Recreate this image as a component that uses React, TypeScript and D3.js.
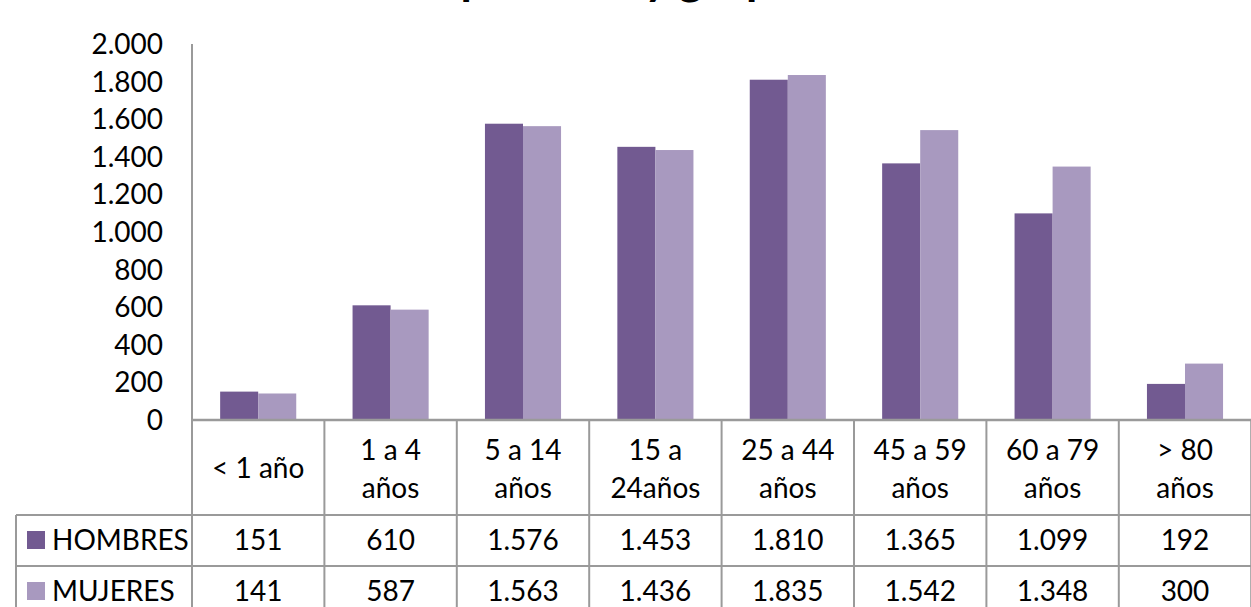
import React from "react";
import * as d3 from "d3";

const title = "Población por sexo y grupo de edad";
const categories = ["< 1 año", "1 a 4 años", "5 a 14 años", "15 a 24años", "25 a 44 años", "45 a 59 años", "60 a 79 años", "> 80 años"];
const categoryLines = [["< 1 año"], ["1 a 4", "años"], ["5 a 14", "años"], ["15 a", "24años"], ["25 a 44", "años"], ["45 a 59", "años"], ["60 a 79", "años"], ["> 80", "años"]];
const seriesNames = ["HOMBRES", "MUJERES"];
const hombres = [151, 610, 1576, 1453, 1810, 1365, 1099, 192];
const mujeres = [141, 587, 1563, 1436, 1835, 1542, 1348, 300];
const yTicks = [0, 200, 400, 600, 800, 1000, 1200, 1400, 1600, 1800, 2000];
const colors = ["#725a91", "#a899bf"];

const W = 1251, H = 607;
const FONT = "Lato, 'Open Sans', sans-serif";

export default function App() {
  const series = [hombres, mujeres];
  const loc = d3.formatLocale({ decimal: ",", thousands: ".", grouping: [3], currency: ["", "€"] });
  const fmt = loc.format(",");
  const y = d3.scaleLinear().domain([0, 2000]).range([420, 44]);
  const x = d3.scaleBand<string>().domain(categories).range([192, 192 + 8 * 132.4]).paddingInner(0).paddingOuter(0);
  const xs = d3.scaleBand<string>().domain(seriesNames).range([0, x.bandwidth()]).paddingInner(0).paddingOuter(0.74);
  const rowY = [540, 591];
  const lineColor = "#9a9a9a";
  const boundaries = d3.range(categories.length + 1).map((i) => 192 + i * x.step());

  return (
    <svg width={W} height={H} style={{ position: "absolute", left: 0, top: 0, background: "#fff" }} fontFamily={FONT}>
      <text x={610} y={-6} textAnchor="middle" fontSize={46} fontWeight="bold" fill="#000">{title}</text>
      {/* bars */}
      {categories.map((c, i) => (
        <g key={c}>
          {series.map((s, j) => (
            <rect key={j} x={(x(c) as number) + (xs(seriesNames[j]) as number)} y={y(s[i])} width={xs.bandwidth()} height={y(0) - y(s[i])} fill={colors[j]} />
          ))}
        </g>
      ))}
      {/* y axis */}
      <line x1={192} x2={192} y1={y(2000)} y2={y(0)} stroke={lineColor} strokeWidth={2} />
      {yTicks.map((t) => (
        <text key={t} x={163} y={y(t)} dy="0.36em" textAnchor="end" fontSize={28} fill="#000">{fmt(t)}</text>
      ))}
      {/* table */}
      <line x1={191} x2={W} y1={y(0)} y2={y(0)} stroke={lineColor} strokeWidth={2.5} />
      {boundaries.map((b, i) => (
        <line key={i} x1={b} x2={b} y1={y(0)} y2={H} stroke={lineColor} strokeWidth={2} />
      ))}
      <line x1={16} x2={W} y1={515} y2={515} stroke={lineColor} strokeWidth={2} />
      <line x1={16} x2={W} y1={566} y2={566} stroke={lineColor} strokeWidth={2} />
      <line x1={16} x2={16} y1={515} y2={H} stroke={lineColor} strokeWidth={2} />
      {categories.map((c, i) => {
        const cx = (x(c) as number) + x.bandwidth() / 2;
        const lines = categoryLines[i];
        const ys = lines.length === 1 ? [468] : [450, 488];
        return lines.map((l, k) => (
          <text key={c + k} x={cx} y={ys[k]} dy="0.36em" textAnchor="middle" fontSize={28} fill="#000">{l}</text>
        ));
      })}
      {seriesNames.map((n, j) => (
        <g key={n}>
          <rect x={27} y={rowY[j] - 9} width={18} height={18} fill={colors[j]} />
          <text x={52} y={rowY[j]} dy="0.36em" fontSize={28} fill="#000">{n}</text>
          {categories.map((c, i) => (
            <text key={c} x={(x(c) as number) + x.bandwidth() / 2} y={rowY[j]} dy="0.36em" textAnchor="middle" fontSize={28} fill="#000">{fmt(series[j][i])}</text>
          ))}
        </g>
      ))}
    </svg>
  );
}
